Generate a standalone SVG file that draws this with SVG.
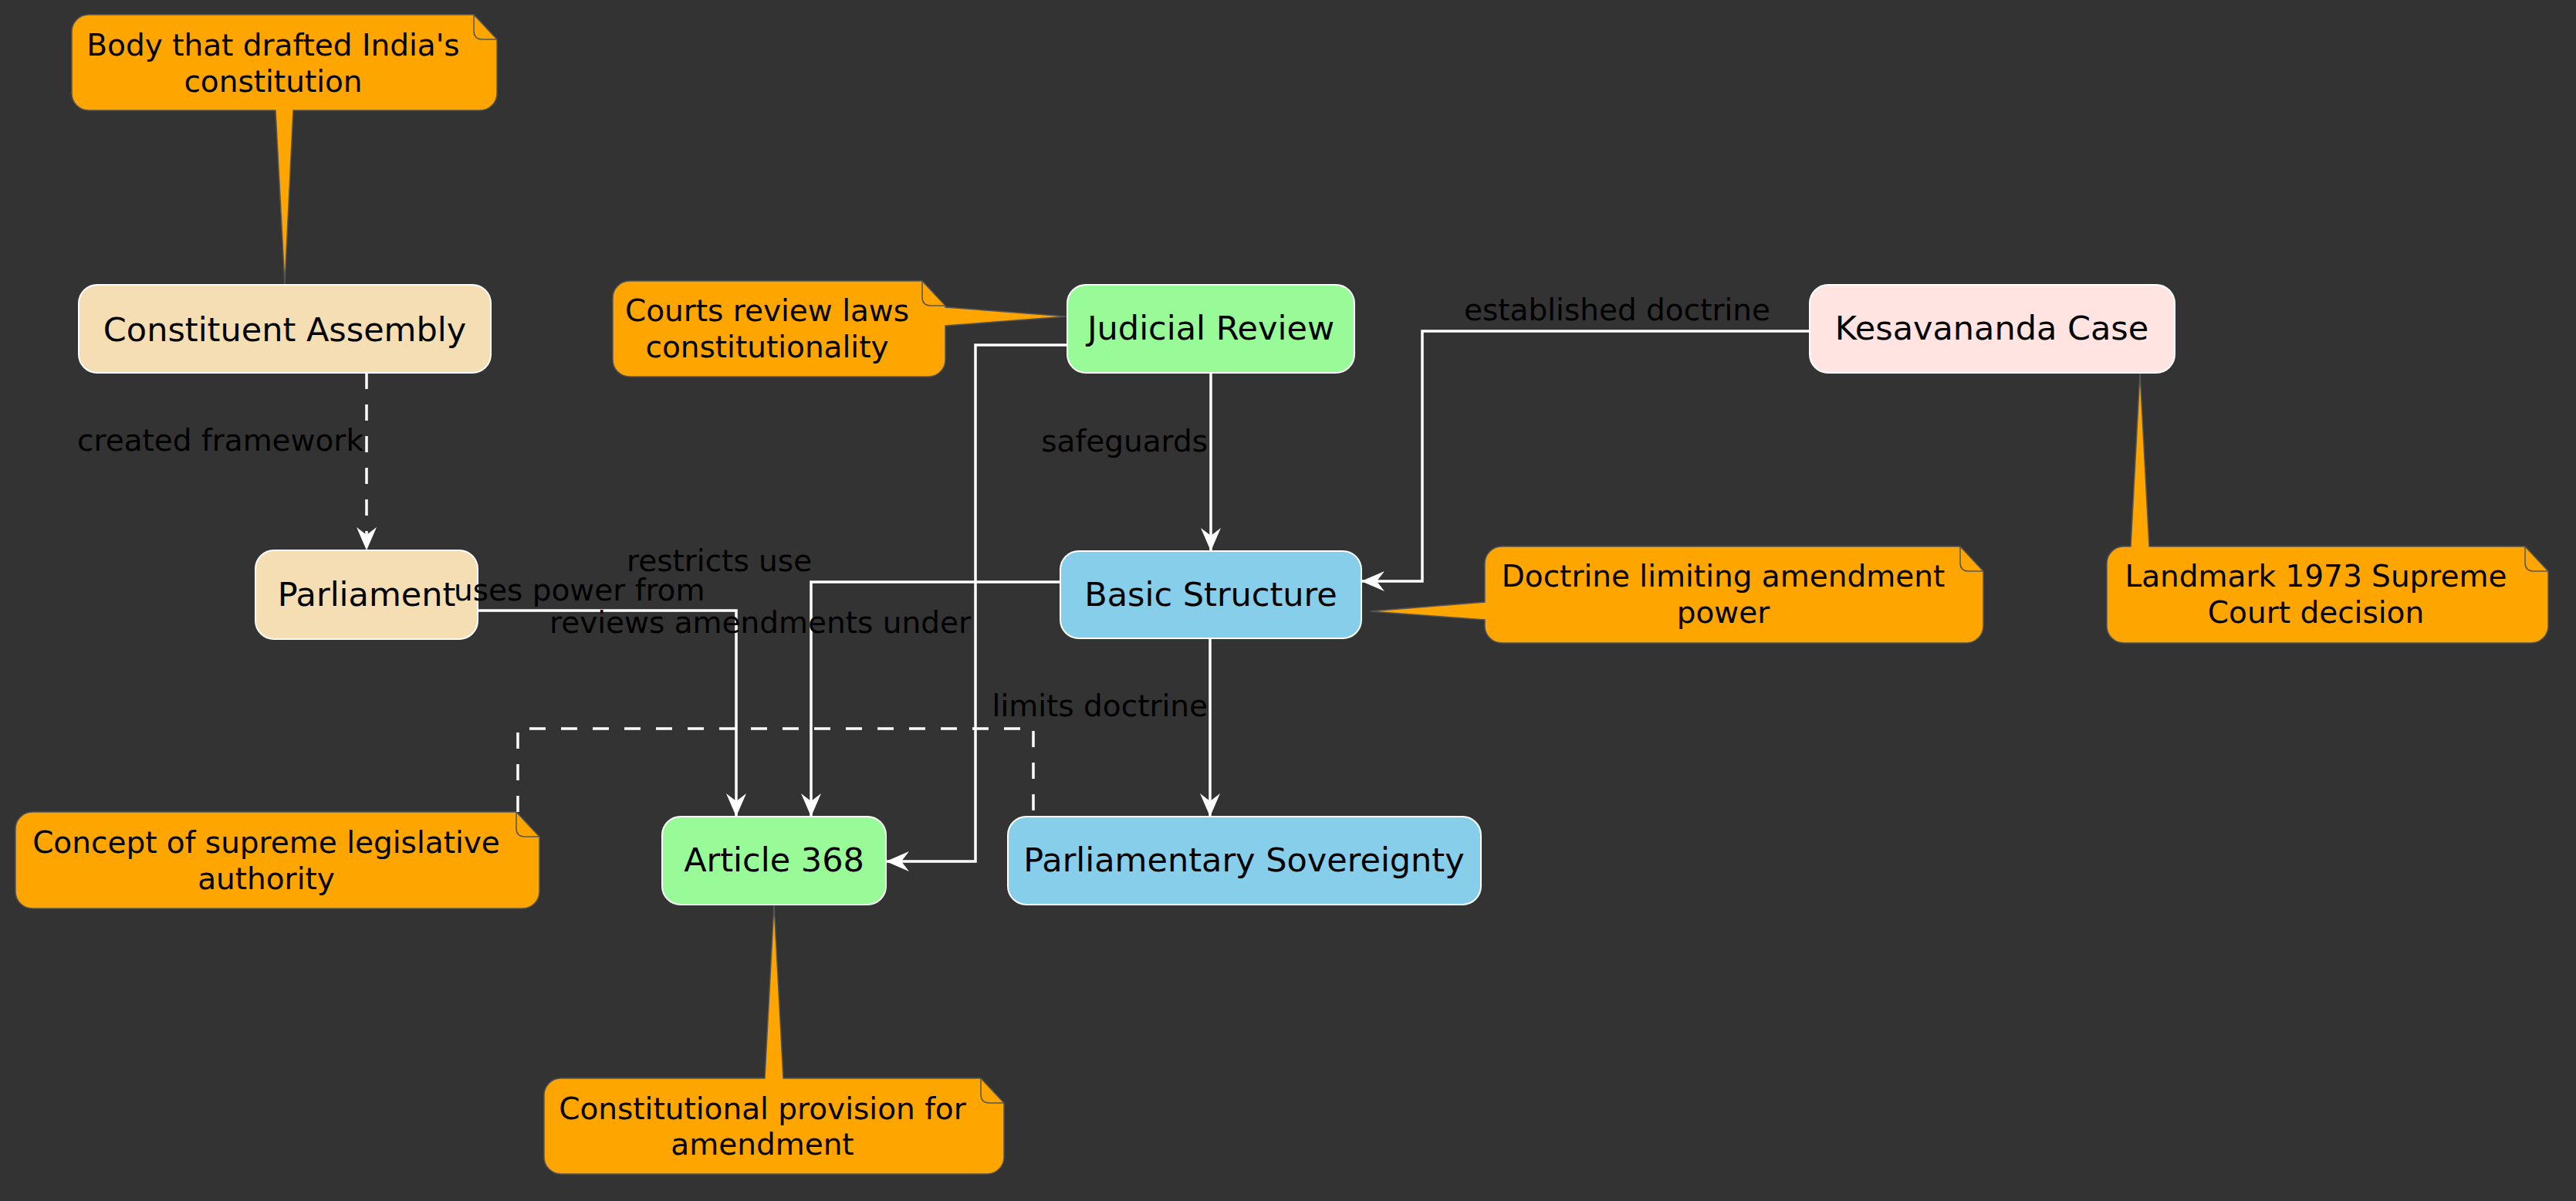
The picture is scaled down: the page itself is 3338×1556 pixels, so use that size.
<svg xmlns="http://www.w3.org/2000/svg" width="3338" height="1556" viewBox="0 0 3338 1556">
<style>
.node rect{stroke:#ffffff;stroke-width:2}
.ntext{font-family:"DejaVu Sans","Liberation Sans",sans-serif;font-size:43px;fill:#000;text-anchor:middle}
.note path.body{fill:#FFA500;stroke:#555555;stroke-width:1.5}
.note path.fold{fill:none;stroke:#555555;stroke-width:1.5}
.ttext{font-family:"DejaVu Sans","Liberation Sans",sans-serif;font-size:39px;fill:#000;text-anchor:middle}
.edge{fill:none;stroke:#ffffff;stroke-width:3.5}
.dash{stroke-dasharray:21 20}
.arr{marker-end:url(#ah)}
.lbl{font-family:"DejaVu Sans","Liberation Sans",sans-serif;font-size:39px;fill:#000}
</style>
<defs>
<marker id="ah" markerUnits="userSpaceOnUse" viewBox="-32 -15 34 30" markerWidth="34" markerHeight="30" refX="0" refY="0" orient="auto">
<path d="M0,0 L-30,-13 L-20,0 L-30,13 Z" fill="#ffffff"/>
</marker>
</defs>
<rect x="0" y="0" width="3338" height="1556" fill="#333333"/>

<g id="note-constituent" class="note">
<path class="body" d="M115,19 L614,19 L644,51 L644,121 A22,22 0 0 1 622,143 L380,143 L369,368 L357,143 L115,143 A22,22 0 0 1 93,121 L93,41 A22,22 0 0 1 115,19 Z"/>
<path class="fold" d="M614,19 L614,40 Q614,51 625,51 L644,51"/>
<text class="ttext" x="354" y="72">Body that drafted India's</text>
<text class="ttext" x="354" y="119">constitution</text>
</g>

<g id="note-judicial" class="note">
<path class="body" d="M816,364 L1195,364 L1225,396 L1225,398 L1382,410 L1225,422 L1225,466 A22,22 0 0 1 1203,488 L816,488 A22,22 0 0 1 794,466 L794,386 A22,22 0 0 1 816,364 Z"/>
<path class="fold" d="M1195,364 L1195,385 Q1195,396 1206,396 L1225,396"/>
<text class="ttext" x="994" y="416">Courts review laws</text>
<text class="ttext" x="994" y="463">constitutionality</text>
</g>

<g id="note-basic" class="note">
<path class="body" d="M1946,708 L2540,708 L2570,740 L2570,811 A22,22 0 0 1 2548,833 L1946,833 A22,22 0 0 1 1924,811 L1924,803 L1776,792 L1924,780 L1924,730 A22,22 0 0 1 1946,708 Z"/>
<path class="fold" d="M2540,708 L2540,729 Q2540,740 2551,740 L2570,740"/>
<text class="ttext" x="2233" y="760">Doctrine limiting amendment</text>
<text class="ttext" x="2233" y="807">power</text>
</g>

<g id="note-kesavananda" class="note">
<path class="body" d="M2752,708 L2761,708 L2773,483 L2785,708 L3272,708 L3302,740 L3302,811 A22,22 0 0 1 3280,833 L2752,833 A22,22 0 0 1 2730,811 L2730,730 A22,22 0 0 1 2752,708 Z"/>
<path class="fold" d="M3272,708 L3272,729 Q3272,740 3283,740 L3302,740"/>
<text class="ttext" x="3001" y="760">Landmark 1973 Supreme</text>
<text class="ttext" x="3001" y="807">Court decision</text>
</g>

<g id="note-sovereignty" class="note">
<path class="body" d="M42,1052 L669,1052 L699,1084 L699,1155 A22,22 0 0 1 677,1177 L42,1177 A22,22 0 0 1 20,1155 L20,1074 A22,22 0 0 1 42,1052 Z"/>
<path class="fold" d="M669,1052 L669,1073 Q669,1084 680,1084 L699,1084"/>
<text class="ttext" x="345" y="1105">Concept of supreme legislative</text>
<text class="ttext" x="345" y="1152">authority</text>
</g>

<g id="note-article" class="note">
<path class="body" d="M727,1397 L991,1397 L1003,1172 L1015,1397 L1271,1397 L1301,1429 L1301,1499 A22,22 0 0 1 1279,1521 L727,1521 A22,22 0 0 1 705,1499 L705,1419 A22,22 0 0 1 727,1397 Z"/>
<path class="fold" d="M1271,1397 L1271,1418 Q1271,1429 1282,1429 L1301,1429"/>
<text class="ttext" x="988" y="1450">Constitutional provision for</text>
<text class="ttext" x="988" y="1496">amendment</text>
</g>

<g id="constituent-assembly" class="node">
<rect x="102" y="369" width="534" height="114" rx="24" ry="24" fill="#F5DEB3"/>
<text class="ntext" x="369" y="442">Constituent Assembly</text>
</g>
<g id="parliament" class="node">
<rect x="331" y="713" width="288" height="115" rx="24" ry="24" fill="#F5DEB3"/>
<text class="ntext" x="475" y="785">Parliament</text>
</g>
<g id="judicial-review" class="node">
<rect x="1383" y="369" width="372" height="114" rx="24" ry="24" fill="#98FB98"/>
<text class="ntext" x="1569" y="440">Judicial Review</text>
</g>
<g id="kesavananda-case" class="node">
<rect x="2345" y="369" width="473" height="114" rx="24" ry="24" fill="#FFE4E1"/>
<text class="ntext" x="2581" y="440">Kesavananda Case</text>
</g>
<g id="basic-structure" class="node">
<rect x="1374" y="714" width="390" height="113" rx="24" ry="24" fill="#87CEEB"/>
<text class="ntext" x="1569" y="785">Basic Structure</text>
</g>
<g id="article-368" class="node">
<rect x="858" y="1058" width="290" height="114" rx="24" ry="24" fill="#98FB98"/>
<text class="ntext" x="1003" y="1129">Article 368</text>
</g>
<g id="parliamentary-sovereignty" class="node">
<rect x="1306" y="1058" width="613" height="114" rx="24" ry="24" fill="#87CEEB"/>
<text class="ntext" x="1612" y="1129">Parliamentary Sovereignty</text>
</g>

<g id="connectors">
<path class="edge dash arr" d="M475,483 L475,713"/>
<path class="edge arr" d="M619,791 L954,791 L954,1058"/>
<path class="edge arr" d="M1374,754 L1051,754 L1051,1058"/>
<path class="edge arr" d="M1383,447 L1264,447 L1264,1116 L1148,1116"/>
<path class="edge arr" d="M1569,483 L1569,714"/>
<path class="edge arr" d="M2345,429 L1843,429 L1843,753 L1764,753"/>
<path class="edge arr" d="M1568,827 L1568,1058"/>
<path class="edge dash" d="M671,1052 L671,944 L1339,944 L1339,1058"/>
<text class="lbl" x="471" y="584" text-anchor="end">created framework</text>
<text class="lbl" x="588" y="778">uses power from</text>
<text class="lbl" x="812" y="740">restricts use</text>
<text class="lbl" x="1258" y="820" text-anchor="end">reviews amendments under</text>
<text class="lbl" x="1565" y="585" text-anchor="end">safeguards</text>
<text class="lbl" x="1897" y="415">established doctrine</text>
<text class="lbl" x="1565" y="928" text-anchor="end">limits doctrine</text>
</g>
</svg>
